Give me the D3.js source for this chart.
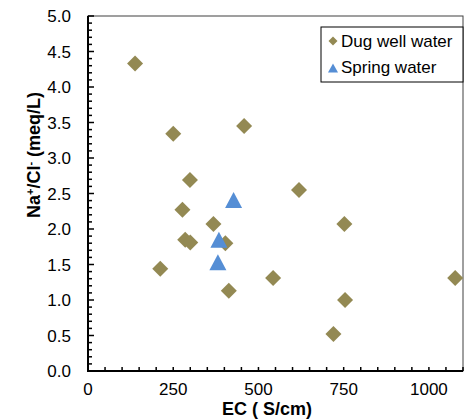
<!DOCTYPE html>
<html><head><meta charset="utf-8">
<script src="https://cdn.jsdelivr.net/npm/d3@7"></script>
<style>body{margin:0;background:#fff}svg{display:block;font-family:"Liberation Sans",Arial,sans-serif}</style>
</head><body><svg id="c" width="464" height="420"></svg>
<script>
const dugEC    = [138, 250, 458, 299, 619, 277, 368, 752, 285, 300, 403, 212, 543, 413, 754, 720, 1077];
const dugRatio = [4.33, 3.34, 3.45, 2.69, 2.55, 2.27, 2.07, 2.07, 1.85, 1.81, 1.80, 1.44, 1.31, 1.13, 1.00, 0.52, 1.31];
const springEC    = [427, 384, 381];
const springRatio = [2.41, 1.85, 1.53];
const xTickLabels = [0, 250, 500, 750, 1000];
const yTickLabels = [0, 0.5, 1, 1.5, 2, 2.5, 3, 3.5, 4, 4.5, 5];
const seriesNames = ["Dug well water", "Spring water"];
const colors = ["#938953", "#558ED5"];

const svg = d3.select("#c");
const L = 88, R = 463, T = 16, B = 371;
const x = d3.scaleLinear().domain([0, 1100]).range([L, R]);
const y = d3.scaleLinear().domain([0, 5]).range([B, T]);

// frame
svg.append("rect").attr("x", L).attr("y", T).attr("width", R - L).attr("height", B - T)
  .attr("fill", "none").attr("stroke", "#404040").attr("stroke-width", 1);

// minor ticks
const xMinor = d3.range(0, 1101, 50);
svg.append("g").selectAll("line").data(xMinor).join("line")
  .attr("x1", d => x(d)).attr("x2", d => x(d)).attr("y1", B).attr("y2", B - 4)
  .attr("stroke", "#000").attr("stroke-width", 1.5);
const yMinor = d3.range(0, 51).map(i => i / 10);
svg.append("g").selectAll("line").data(yMinor).join("line")
  .attr("x1", L).attr("x2", d => L + (Math.round(d * 10) % 5 === 0 ? 6 : 4))
  .attr("y1", d => y(d)).attr("y2", d => y(d))
  .attr("stroke", "#000").attr("stroke-width", 1.5);

// axis lines
svg.append("line").attr("x1", L).attr("x2", L).attr("y1", T).attr("y2", B + 1)
  .attr("stroke", "#000").attr("stroke-width", 2);
svg.append("line").attr("x1", L - 1).attr("x2", R).attr("y1", B).attr("y2", B)
  .attr("stroke", "#000").attr("stroke-width", 2);

// tick labels
svg.append("g").selectAll("text").data(xTickLabels).join("text")
  .attr("x", d => x(d)).attr("y", 395).attr("text-anchor", "middle")
  .attr("font-size", 17).attr("fill", "#000").text(d => d);
svg.append("g").selectAll("text").data(yTickLabels).join("text")
  .attr("x", 71).attr("y", d => y(d) + 6).attr("text-anchor", "end")
  .attr("font-size", 17).attr("fill", "#000").text(d => d3.format(".1f")(d));

// axis titles
svg.append("text").attr("x", 267).attr("y", 415).attr("text-anchor", "middle")
  .attr("font-size", 18).attr("font-weight", "bold").text("EC ( S/cm)");
const yt = svg.append("text").attr("transform", "translate(40,155) rotate(-90)")
  .attr("text-anchor", "middle").attr("font-size", 18).attr("font-weight", "bold");
yt.append("tspan").text("Na");
yt.append("tspan").attr("baseline-shift", "super").attr("font-size", 11).text("+");
yt.append("tspan").text("/Cl");
yt.append("tspan").attr("baseline-shift", "super").attr("font-size", 11).text("-");
yt.append("tspan").text(" (meq/L)");

// symbols
const diamond = s => ({draw(ctx) { ctx.moveTo(0, -s); ctx.lineTo(s, 0); ctx.lineTo(0, s); ctx.lineTo(-s, 0); ctx.closePath(); }});
const triangle = (w, h) => ({draw(ctx) { ctx.moveTo(0, -h / 2); ctx.lineTo(w / 2, h / 2); ctx.lineTo(-w / 2, h / 2); ctx.closePath(); }});
const dPath = d3.symbol().type(diamond(8))();
const tPath = d3.symbol().type(triangle(17, 16))();

svg.append("g").selectAll("path").data(dugEC.map((v, i) => [v, dugRatio[i]])).join("path")
  .attr("d", dPath).attr("transform", d => `translate(${x(d[0])},${y(d[1])})`).attr("fill", colors[0]);
svg.append("g").selectAll("path").data(springEC.map((v, i) => [v, springRatio[i]])).join("path")
  .attr("d", tPath).attr("transform", d => `translate(${x(d[0])},${y(d[1])})`).attr("fill", colors[1]);

// legend
const lg = svg.append("g");
lg.append("rect").attr("x", 321).attr("y", 27).attr("width", 142).attr("height", 55)
  .attr("fill", "#fff").attr("stroke", "#000").attr("stroke-width", 1);
lg.append("path").attr("d", d3.symbol().type(diamond(4.5))()).attr("transform", "translate(333,41)").attr("fill", colors[0]);
lg.append("path").attr("d", d3.symbol().type(triangle(10, 9))()).attr("transform", "translate(333,68)").attr("fill", colors[1]);
lg.selectAll("text").data(seriesNames).join("text")
  .attr("x", 341).attr("y", (d, i) => 47 + i * 26).attr("font-size", 17).attr("fill", "#000").text(d => d);
</script></body></html>
